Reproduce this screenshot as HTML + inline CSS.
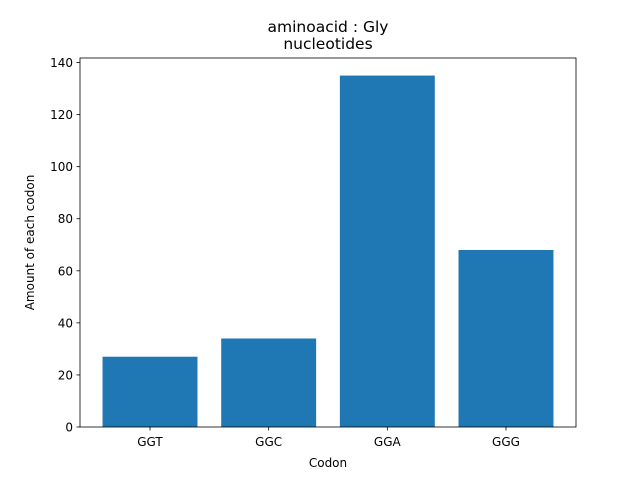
<!DOCTYPE html>
<html><head><meta charset="utf-8"><style>body{margin:0;background:#fff}svg{font-family:"DejaVu Sans","Liberation Sans",sans-serif}</style></head>
<body>
<svg id="chart" width="640" height="480" xmlns="http://www.w3.org/2000/svg">
<rect width="640" height="480" fill="#fff"/>
<g id="plot"></g>
</svg>
<script>
const categories = ["GGT","GGC","GGA","GGG"];
const counts = [27, 34, 135, 68];
const yTicks = [0,20,40,60,80,100,120,140];

const L=80,R=576,T=58,B=427;
const ymax=Math.max(...counts)*1.05;
const xmin=-0.59,xmax=categories.length-1+0.59;
const xs=v=>L+(v-xmin)/(xmax-xmin)*(R-L);
const ys=v=>B-v/ymax*(B-T);
const ns="http://www.w3.org/2000/svg";
const g=document.getElementById('plot');
function mk(tag,attrs,text){const e=document.createElementNS(ns,tag);for(const k in attrs)e.setAttribute(k,attrs[k]);if(text!==undefined)e.textContent=text;g.appendChild(e);return e;}

counts.forEach((v,i)=>{
  const b=mk('rect',{x:xs(i-0.4),y:ys(v),width:xs(i+0.4)-xs(i-0.4),height:B-ys(v),fill:'#1f77b4'});
  
  
  const t=mk('line',{x1:xs(i),x2:xs(i),y1:B,y2:B+3.5,stroke:'#000','stroke-width':0.8});
  
  
  const l=mk('text',{x:xs(i),y:B+19,'text-anchor':'middle','font-size':12},categories[i]);
  
  
});
yTicks.forEach(v=>{
  const t=mk('line',{x1:L-3.5,x2:L,y1:ys(v),y2:ys(v),stroke:'#000','stroke-width':0.8});
  
  
  const l=mk('text',{x:L-7,y:ys(v)+4.5,'text-anchor':'end','font-size':12},v);
  
  
});
const fr=mk('rect',{x:L,y:T,width:R-L,height:B-T,fill:'none',stroke:'#000','stroke-width':0.8});


const xt=mk('text',{x:(L+R)/2,y:467,'text-anchor':'middle','font-size':12},'Codon');


const yt=mk('text',{x:0,y:0,'text-anchor':'middle','font-size':12,transform:`translate(34,${(T+B)/2}) rotate(-90)`},'Amount of each codon');


const t1=mk('text',{x:(L+R)/2,y:32,'text-anchor':'middle','font-size':15.5},'aminoacid : Gly');


const t2=mk('text',{x:(L+R)/2,y:49,'text-anchor':'middle','font-size':15.5},' nucleotides');


</script>
</body></html>
